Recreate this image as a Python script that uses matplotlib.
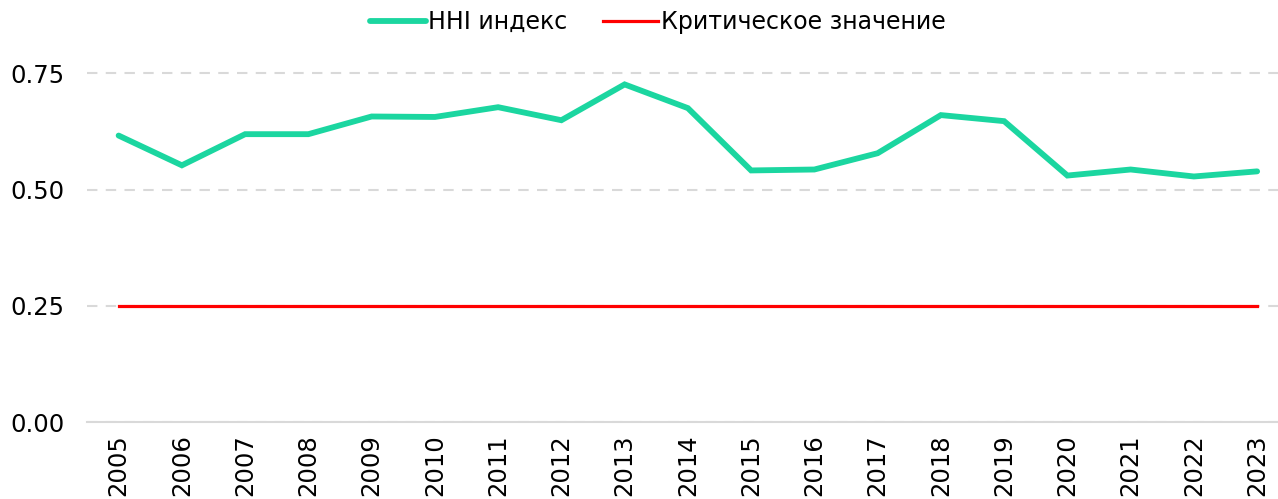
import matplotlib.pyplot as plt

# годы и значения индекса HHI
years = ["2005", "2006", "2007", "2008", "2009", "2010", "2011", "2012", "2013", "2014",
         "2015", "2016", "2017", "2018", "2019", "2020", "2021", "2022", "2023"]
hhi = [0.616, 0.552, 0.619, 0.619, 0.657, 0.656, 0.677, 0.649, 0.726, 0.675,
       0.541, 0.543, 0.578, 0.660, 0.647, 0.530, 0.543, 0.528, 0.539]
critical = [0.25] * len(years)
y_ticks = [0.00, 0.25, 0.50, 0.75]

fig = plt.figure(figsize=(12.78, 4.99), dpi=100)
ax = fig.add_axes([87 / 1278, 1 - 422 / 499, 1 - 87 / 1278, (422 - 50) / 499])

x = list(range(len(years)))
ax.plot(x, hhi, color="#1BD6A0", lw=4.2, solid_capstyle="round",
        solid_joinstyle="miter", label="HHI индекс", zorder=3)
ax.plot(x, critical, color="#FF0000", lw=2.3, label="Критическое значение", zorder=3)

ax.set_xlim(-0.5, 18.33)
ax.set_ylim(0, 0.8)
ax.set_yticks(y_ticks)
ax.set_yticklabels([f"{v:.2f}" for v in y_ticks])
ax.set_xticks(x)
ax.set_xticklabels(years, rotation=90)

ax.grid(axis="y", color="#D9D9D9", lw=1.5, ls=(0, (5, 4)))
ax.set_axisbelow(True)
for s in ["top", "right", "left"]:
    ax.spines[s].set_visible(False)
ax.spines["bottom"].set_color("#D9D9D9")
ax.spines["bottom"].set_linewidth(1.5)

ax.tick_params(axis="both", length=0, labelsize=17.5, colors="black")
ax.tick_params(axis="y", pad=16)
ax.tick_params(axis="x", pad=9)

fig.legend(loc="center", bbox_to_anchor=(658 / 1278, 1 - 22 / 499), ncol=2,
           frameon=False, fontsize=17, handlelength=2.35, handletextpad=0.1,
           columnspacing=1.5)

fig.savefig("out.png", dpi=100)
